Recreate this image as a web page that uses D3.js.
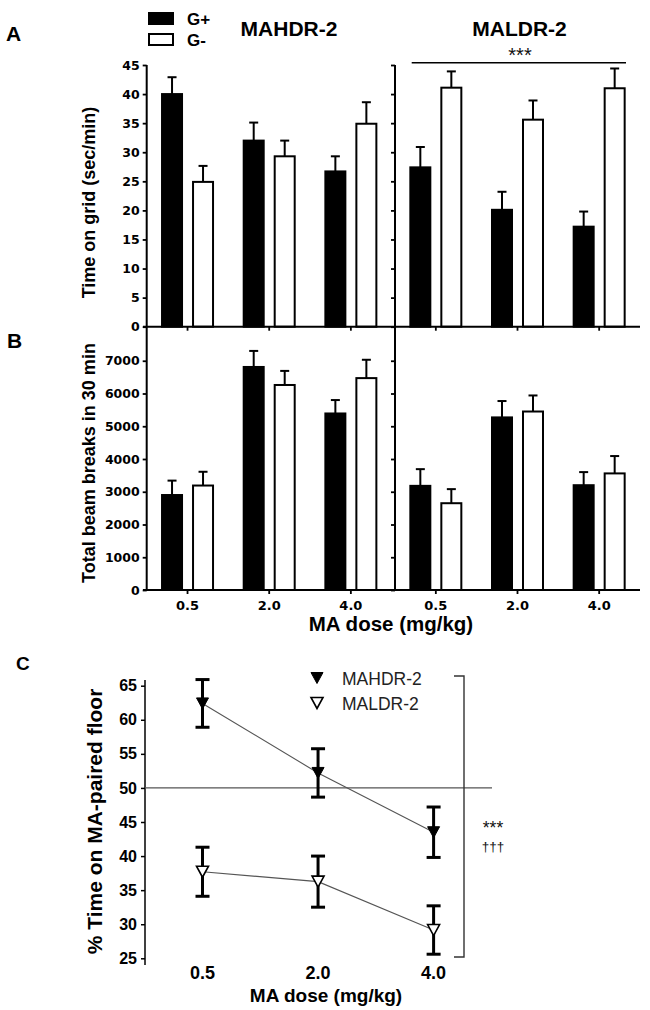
<!DOCTYPE html>
<html>
<head>
<meta charset="utf-8">
<script src="https://cdn.jsdelivr.net/npm/d3@7"></script>
<style>
  html, body { margin: 0; padding: 0; background: #fff; }
  svg { display: block; }
</style>
</head>
<body>
<script>
// ---------------- DATA ----------------
const doses = ["0.5", "2.0", "4.0"];
const groups = ["G+", "G-"];
const strains = ["MAHDR-2", "MALDR-2"];

// Panel A: Time on grid (sec/min)
const gridHDR_Gpos = [40.0, 32.0, 26.7];
const gridHDR_GposErr = [2.9, 3.1, 2.6];
const gridHDR_Gneg = [24.9, 29.3, 34.9];
const gridHDR_GnegErr = [2.75, 2.7, 3.7];
const gridLDR_Gpos = [27.4, 20.1, 17.2];
const gridLDR_GposErr = [3.5, 3.1, 2.6];
const gridLDR_Gneg = [41.1, 35.6, 41.0];
const gridLDR_GnegErr = [2.8, 3.3, 3.4];
const gridTicks = [0, 5, 10, 15, 20, 25, 30, 35, 40, 45];

// Panel B: Total beam breaks in 30 min
const beamHDR_Gpos = [2900, 6810, 5390];
const beamHDR_GposErr = [440, 490, 410];
const beamHDR_Gneg = [3190, 6260, 6470];
const beamHDR_GnegErr = [420, 430, 560];
const beamLDR_Gpos = [3180, 5270, 3200];
const beamLDR_GposErr = [510, 500, 400];
const beamLDR_Gneg = [2650, 5450, 3560];
const beamLDR_GnegErr = [430, 490, 530];
const beamTicks = [0, 1000, 2000, 3000, 4000, 5000, 6000, 7000];

// Panel C: % Time on MA-paired floor
const cppHDR = [62.4, 52.2, 43.5];
const cppHDRErr = [3.5, 3.55, 3.7];
const cppLDR = [37.7, 36.25, 29.15];
const cppLDRErr = [3.6, 3.75, 3.55];
const cppTicks = [25, 30, 35, 40, 45, 50, 55, 60, 65];
const cppRef = 50;

// ---------------- DRAW ----------------
const W = 650, H = 1010;
const ARIAL = "'Liberation Sans', Arial, Helvetica, sans-serif";
const DEJA = "'DejaVu Sans', Verdana, sans-serif";

const svg = d3.select("body").append("svg")
  .attr("width", W).attr("height", H)
  .attr("viewBox", `0 0 ${W} ${H}`);

svg.append("rect").attr("width", W).attr("height", H).attr("fill", "#fff");

// scales
const yA = d3.scaleLinear().domain([0, 45]).range([326.7, 65]);
const yB = d3.scaleLinear().domain([0, 8000]).range([590, 328]);
const xLeft = d3.scaleBand().domain(doses).range([146.7, 391.7]);
const xRight = d3.scaleBand().domain(doses).range([395, 640]);
const xSub = d3.scaleBand().domain(groups).range([-25.5, 25.5]).paddingInner(0.355);

function drawBars(y, xs, gp, gpe, gn, gne) {
  const rows = [];
  doses.forEach((d, i) => {
    rows.push({ dose: d, grp: "G+", v: gp[i], e: gpe[i] });
    rows.push({ dose: d, grp: "G-", v: gn[i], e: gne[i] });
  });
  const cx = r => xs(r.dose) + xs.bandwidth() / 2 + xSub(r.grp) + xSub.bandwidth() / 2;
  const g = svg.append("g");
  g.selectAll("line.err").data(rows).join("line")
    .attr("x1", cx).attr("x2", cx)
    .attr("y1", r => y(r.v)).attr("y2", r => y(r.v + r.e))
    .attr("stroke", "#000").attr("stroke-width", 2);
  g.selectAll("line.cap").data(rows).join("line")
    .attr("x1", r => cx(r) - 4.5).attr("x2", r => cx(r) + 4.5)
    .attr("y1", r => y(r.v + r.e)).attr("y2", r => y(r.v + r.e))
    .attr("stroke", "#000").attr("stroke-width", 2);
  g.selectAll("rect").data(rows).join("rect")
    .attr("x", r => xs(r.dose) + xs.bandwidth() / 2 + xSub(r.grp))
    .attr("width", xSub.bandwidth())
    .attr("y", r => y(r.v))
    .attr("height", r => y(0) - y(r.v))
    .attr("fill", r => r.grp === "G+" ? "#000" : "#fff")
    .attr("stroke", "#000").attr("stroke-width", 2);
}

function yAxis(scale, x, ticks, labels) {
  const ax = d3.axisLeft(scale).tickValues(ticks).tickSize(4).tickPadding(3)
    .tickFormat(labels ? d3.format("d") : () => "");
  const g = svg.append("g").attr("transform", `translate(${x},0)`).call(ax);
  g.select(".domain").remove();
  g.selectAll(".tick line").attr("stroke", "#000").attr("stroke-width", 1.8);
  g.selectAll(".tick text").attr("fill", "#000")
    .style("font-family", DEJA).style("font-weight", "bold").style("font-size", "12.5px");
}

function xAxis(xs, yPos, labels) {
  const ax = d3.axisBottom(xs).tickSize(4).tickPadding(6.5)
    .tickFormat(labels ? (d => d) : () => "");
  const g = svg.append("g").attr("transform", `translate(0,${yPos})`).call(ax);
  g.select(".domain").remove();
  g.selectAll(".tick line").attr("stroke", "#000").attr("stroke-width", 1.8);
  g.selectAll(".tick text").attr("fill", "#000")
    .style("font-family", DEJA).style("font-weight", "bold").style("font-size", "13px");
}

drawBars(yA, xLeft, gridHDR_Gpos, gridHDR_GposErr, gridHDR_Gneg, gridHDR_GnegErr);
drawBars(yA, xRight, gridLDR_Gpos, gridLDR_GposErr, gridLDR_Gneg, gridLDR_GnegErr);
drawBars(yB, xLeft, beamHDR_Gpos, beamHDR_GposErr, beamHDR_Gneg, beamHDR_GnegErr);
drawBars(yB, xRight, beamLDR_Gpos, beamLDR_GposErr, beamLDR_Gneg, beamLDR_GnegErr);

yAxis(yA, 146.7, gridTicks, true);
yAxis(yA, 395, gridTicks, false);
yAxis(yB, 146.7, beamTicks, true);
yAxis(yB, 395, beamTicks, false);
xAxis(xLeft, yA(0), false);
xAxis(xRight, yA(0), false);
xAxis(xLeft, yB(0), true);
xAxis(xRight, yB(0), true);

[146.7, 395].forEach(x => {
  svg.append("line").attr("x1", x).attr("x2", x).attr("y1", yA(45)).attr("y2", yB(0))
    .attr("stroke", "#000").attr("stroke-width", 2);
});
[yA(0), yB(0)].forEach(y => {
  svg.append("line").attr("x1", 143).attr("x2", 640).attr("y1", y).attr("y2", y)
    .attr("stroke", "#000").attr("stroke-width", 2);
});

svg.append("text").attr("transform", "translate(95,202.5) rotate(-90)")
  .attr("text-anchor", "middle").style("font-family", ARIAL).style("font-weight", "bold")
  .style("font-size", "18px").text("Time on grid (sec/min)");
svg.append("text").attr("transform", "translate(95,463) rotate(-90)")
  .attr("text-anchor", "middle").style("font-family", ARIAL).style("font-weight", "bold")
  .style("font-size", "18px").text("Total beam breaks in 30 min");
svg.append("text").attr("x", 391).attr("y", 631).attr("text-anchor", "middle")
  .style("font-family", ARIAL).style("font-weight", "bold").style("font-size", "20.5px")
  .text("MA dose (mg/kg)");

const letter = (t, x, y, s) => svg.append("text").attr("x", x).attr("y", y)
  .style("font-family", ARIAL).style("font-weight", "bold").style("font-size", s + "px").text(t);
letter("A", 6, 41, 21);
letter("B", 7, 348, 21);
letter("C", 16, 670, 19);

svg.append("text").attr("x", 289).attr("y", 36).attr("text-anchor", "middle")
  .style("font-family", ARIAL).style("font-weight", "bold").style("font-size", "21px").text(strains[0]);
svg.append("text").attr("x", 519.5).attr("y", 36).attr("text-anchor", "middle")
  .style("font-family", ARIAL).style("font-weight", "bold").style("font-size", "21px").text(strains[1]);

const legA = svg.append("g");
groups.forEach((gname, i) => {
  legA.append("rect").attr("x", 149).attr("y", 13 + i * 21).attr("width", 24).attr("height", 11)
    .attr("fill", gname === "G+" ? "#000" : "#fff").attr("stroke", "#000").attr("stroke-width", 2);
  legA.append("text").attr("x", 187).attr("y", 25 + i * 21)
    .style("font-family", ARIAL).style("font-weight", "bold").style("font-size", "17px").text(gname);
});

svg.append("line").attr("x1", 411.7).attr("x2", 626).attr("y1", 62.7).attr("y2", 62.7)
  .attr("stroke", "#000").attr("stroke-width", 1.5);
svg.append("text").attr("x", 520).attr("y", 61.5).attr("text-anchor", "middle")
  .style("font-family", ARIAL).style("font-size", "20px").attr("fill", "#111").text("***");

// ---------------- Panel C ----------------
const yC = d3.scaleLinear().domain([25, 65]).range([958.3, 685.7]);
const xC = d3.scalePoint().domain(doses).range([202.5, 433.6]);

{
  const ax = d3.axisLeft(yC).tickValues(cppTicks).tickSize(4).tickPadding(4).tickFormat(d3.format("d"));
  const g = svg.append("g").attr("transform", "translate(145,0)").call(ax);
  g.select(".domain").remove();
  g.selectAll(".tick line").attr("stroke", "#000").attr("stroke-width", 1.5);
  g.selectAll(".tick text").attr("fill", "#000")
    .style("font-family", ARIAL).style("font-weight", "bold").style("font-size", "16px");
  svg.append("line").attr("x1", 145).attr("x2", 145).attr("y1", 680).attr("y2", 965)
    .attr("stroke", "#000").attr("stroke-width", 1.5);
}
svg.append("g").selectAll("text").data(doses).join("text")
  .attr("x", d => xC(d)).attr("y", 978.5).attr("text-anchor", "middle")
  .style("font-family", ARIAL).style("font-weight", "bold").style("font-size", "18px")
  .text(d => d);
svg.append("text").attr("x", 326).attr("y", 1002).attr("text-anchor", "middle")
  .style("font-family", ARIAL).style("font-weight", "bold").style("font-size", "19px")
  .text("MA dose (mg/kg)");
svg.append("text").attr("transform", "translate(102,821.5) rotate(-90)")
  .attr("text-anchor", "middle").style("font-family", ARIAL).style("font-weight", "bold")
  .style("font-size", "21px").text("% Time on MA-paired floor");

svg.append("line").attr("x1", 145).attr("x2", 492).attr("y1", yC(cppRef)).attr("y2", yC(cppRef))
  .attr("stroke", "#555").attr("stroke-width", 1.2);

svg.append("path").attr("d", "M454,676H464V957H454").attr("fill", "none")
  .attr("stroke", "#333").attr("stroke-width", 1.4);
svg.append("text").attr("x", 493).attr("y", 834).attr("text-anchor", "middle")
  .style("font-family", ARIAL).style("font-size", "17.5px").attr("fill", "#111").text("***");
svg.append("text").attr("x", 493).attr("y", 851).attr("text-anchor", "middle")
  .style("font-family", ARIAL).style("font-size", "13.5px").attr("fill", "#111").text("†††");

const tri = "M-6,-5.5L6,-5.5L0,5.5Z";
function series(vals, errs, filled) {
  const g = svg.append("g");
  const line = d3.line().x((d, i) => xC(doses[i])).y(d => yC(d));
  g.append("path").attr("d", line(vals)).attr("fill", "none")
    .attr("stroke", "#555").attr("stroke-width", 1.1);
  const rows = vals.map((v, i) => ({ d: doses[i], v, e: errs[i] }));
  g.selectAll("line.e").data(rows).join("line")
    .attr("x1", r => xC(r.d)).attr("x2", r => xC(r.d))
    .attr("y1", r => yC(r.v - r.e)).attr("y2", r => yC(r.v + r.e))
    .attr("stroke", "#000").attr("stroke-width", 3);
  [1, -1].forEach(s => {
    g.selectAll(null).data(rows).join("line")
      .attr("x1", r => xC(r.d) - 7).attr("x2", r => xC(r.d) + 7)
      .attr("y1", r => yC(r.v + s * r.e)).attr("y2", r => yC(r.v + s * r.e))
      .attr("stroke", "#000").attr("stroke-width", 3);
  });
  g.selectAll("path.pt").data(rows).join("path")
    .attr("d", tri)
    .attr("transform", r => `translate(${xC(r.d)},${yC(r.v)})`)
    .attr("fill", filled ? "#000" : "#fff")
    .attr("stroke", "#000").attr("stroke-width", filled ? 1 : 1.6);
}
series(cppHDR, cppHDRErr, true);
series(cppLDR, cppLDRErr, false);

[[strains[0], true, 678], [strains[1], false, 703]].forEach(([name, filled, y]) => {
  svg.append("path").attr("d", tri).attr("transform", `translate(317,${y})`)
    .attr("fill", filled ? "#000" : "#fff").attr("stroke", "#000").attr("stroke-width", filled ? 1 : 1.6);
  svg.append("text").attr("x", 342).attr("y", y + 7)
    .style("font-family", ARIAL).style("font-size", "17.5px").attr("fill", "#222").text(name);
});
</script>
</body>
</html>
